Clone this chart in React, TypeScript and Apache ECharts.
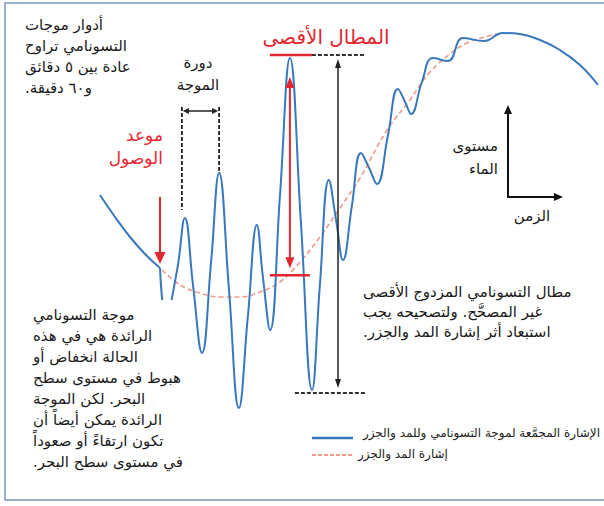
import React, { useEffect, useRef } from "react";
import * as echarts from "echarts";

// Combined signal (tsunami + tide): time (arbitrary units) and water level
const signalTime = [0, 5, 10, 15, 20, 22, 25.7, 28.3, 31, 34, 37, 39.7, 43, 46.3, 49.3, 52.3, 54.3, 56.7, 60, 63.3, 67, 70.7, 73.3, 76.3, 78.7, 81, 84, 87, 89.7, 92.3, 96, 99.3, 101.7, 103.7, 107.3, 111, 116, 121, 128, 134.3, 140, 146.7, 153.3, 160, 166];
const signalLevel = [107.5, 96.5, 86.5, 78, 71, 47, 70, 96, 62.5, 28.5, 73.5, 118.5, 60, 1, 47, 92.5, 66.5, 40, 107.5, 176, 93, 10, 62.5, 115, 95, 75, 102.5, 128.5, 121, 113, 137.5, 160.5, 154, 148, 164, 176, 174.5, 186, 184.5, 188.5, 188, 185, 180, 172.5, 162.5];
// Tide signal
const tideTime = [20.7, 26.7, 33.3, 40, 46.7, 53.3, 60, 66.7, 73.3, 80, 86.7, 95.7, 103.3, 110, 116.7, 122.3, 128.3, 134.3];
const tideLevel = [70, 62.5, 58.5, 56.5, 56.5, 59, 64, 74, 86.5, 101, 116, 140, 155, 169, 178, 183.5, 186.5, 188.5];

const arrivalIndex = 4;
const periodPeaks = [7, 11];
const maxPeakIndex = 19;
const minTroughIndex = 21;

const blueName = "الإشارة المجمَّعة لموجة التسونامي وللمد والجزر";
const tideName = "إشارة المد والجزر";

const FONT = "'DejaVu Sans', sans-serif";
const BLUE = "#3a78bd";
const RED = "#e3262f";
const TIDE = "#f09a88";
const RLM = "\u200F";

function pairs(t: number[], v: number[], from = 0, to = t.length) {
  const out: number[][] = [];
  for (let i = from; i < to; i++) out.push([t[i], v[i]]);
  return out;
}

function tideAt(t: number) {
  for (let i = 0; i < tideTime.length - 1; i++) {
    if (t >= tideTime[i] && t <= tideTime[i + 1]) {
      const f = (t - tideTime[i]) / (tideTime[i + 1] - tideTime[i]);
      return tideLevel[i] + f * (tideLevel[i + 1] - tideLevel[i]);
    }
  }
  return tideLevel[0];
}

function rtl(s: string) {
  return s.split("\n").map((l) => RLM + l + RLM).join("\n");
}

function vArrow(x: number, y1: number, y2: number, color: string, lw: number, hw: number, hl: number, both: boolean, z = 20) {
  const els: any[] = [];
  els.push({ type: "line", z, shape: { x1: x, y1: both ? y1 + hl - 1 : y1, x2: x, y2: y2 - hl + 1 }, style: { stroke: color, lineWidth: lw } });
  els.push({ type: "polygon", z, shape: { points: [[x, y2], [x - hw / 2, y2 - hl], [x + hw / 2, y2 - hl]] }, style: { fill: color } });
  if (both) els.push({ type: "polygon", z, shape: { points: [[x, y1], [x - hw / 2, y1 + hl], [x + hw / 2, y1 + hl]] }, style: { fill: color } });
  return els;
}

export default function App() {
  const ref = useRef<HTMLDivElement>(null);
  useEffect(() => {
    if (!ref.current) return;
    const chart = echarts.init(ref.current, undefined, { renderer: "svg" });
    chart.setOption({
      animation: false,
      grid: { left: 100, right: 6, top: 10, bottom: 96 },
      xAxis: { type: "value", min: 0, max: 166, show: false },
      yAxis: { type: "value", min: 0, max: 200, show: false },
      series: [
        {
          name: blueName, type: "line", smooth: 0.45, symbol: "none", clip: false, z: 3,
          lineStyle: { color: BLUE, width: 2 }, itemStyle: { color: BLUE },
          data: pairs(signalTime, signalLevel, 0, arrivalIndex + 1),
        },
        {
          name: tideName, type: "line", smooth: 0.4, symbol: "none", clip: false, z: 2,
          lineStyle: { color: TIDE, width: 1.6, type: [5, 3] }, itemStyle: { color: TIDE },
          data: pairs(tideTime, tideLevel),
        },
        {
          name: blueName, type: "line", smooth: 0.45, symbol: "none", clip: false, z: 3,
          lineStyle: { color: BLUE, width: 2 }, itemStyle: { color: BLUE },
          data: pairs(signalTime, signalLevel, arrivalIndex, signalTime.length),
        },
      ],
    });

    const P = (t: number, v: number) => chart.convertToPixel({ gridIndex: 0 }, [t, v]) as number[];
    const arr = P(signalTime[arrivalIndex], signalLevel[arrivalIndex]);
    const pk1 = P(signalTime[periodPeaks[0]], signalLevel[periodPeaks[0]]);
    const pk2 = P(signalTime[periodPeaks[1]], signalLevel[periodPeaks[1]]);
    const mx = P(signalTime[maxPeakIndex], signalLevel[maxPeakIndex]);
    const tideMx = P(signalTime[maxPeakIndex], tideAt(signalTime[maxPeakIndex]));
    const mn = P(signalTime[minTroughIndex], signalLevel[minTroughIndex]);

    const topY = mx[1] - 3;
    const bigX = 338;
    const g: any[] = [];
    // frame
    g.push({ type: "polyline", z: 1, shape: { points: [[604, 3], [5, 3], [5, 500], [604, 500]] }, style: { stroke: "#7b94b9", lineWidth: 1.5, fill: "none" } });
    // white box behind lower-left text
    g.push({ type: "rect", z: 10, shape: { x: 28, y: 300, width: 162, height: 172 }, style: { fill: "#fff" } });

    // period bracket
    const lx = pk1[0] - 3, rx = pk2[0];
    g.push({ type: "line", z: 20, shape: { x1: lx, y1: 107, x2: lx, y2: pk1[1] - 8 }, style: { stroke: "#222", lineWidth: 1.8, lineDash: [4, 2] } });
    g.push({ type: "line", z: 20, shape: { x1: rx, y1: 107, x2: rx, y2: pk2[1] - 1 }, style: { stroke: "#222", lineWidth: 1.8, lineDash: [4, 2] } });
    g.push({ type: "line", z: 20, shape: { x1: lx + 5, y1: 111, x2: rx - 5, y2: 111 }, style: { stroke: "#222", lineWidth: 1.5 } });
    g.push({ type: "polygon", z: 20, shape: { points: [[lx + 1, 111], [lx + 7, 108], [lx + 7, 114]] }, style: { fill: "#222" } });
    g.push({ type: "polygon", z: 20, shape: { points: [[rx - 1, 111], [rx - 7, 108], [rx - 7, 114]] }, style: { fill: "#222" } });

    // arrival arrow
    g.push(...vArrow(arr[0], 197, arr[1] - 4, RED, 2, 11, 12, false));

    // max amplitude bars
    g.push({ type: "line", z: 20, shape: { x1: mx[0] - 20, y1: topY, x2: mx[0] + 22, y2: topY }, style: { stroke: RED, lineWidth: 2.5 } });
    g.push({ type: "line", z: 20, shape: { x1: mx[0] + 22, y1: topY, x2: 365, y2: topY }, style: { stroke: "#333", lineWidth: 1.8, lineDash: [4, 2] } });
    g.push({ type: "line", z: 20, shape: { x1: mx[0] - 20, y1: tideMx[1] + 3, x2: mx[0] + 20, y2: tideMx[1] + 3 }, style: { stroke: RED, lineWidth: 2.5 } });
    g.push(...vArrow(mx[0], topY + 22, tideMx[1] - 4, RED, 2, 9, 11, true));
    // double (uncorrected) amplitude
    g.push({ type: "line", z: 20, shape: { x1: mx[0] + 5, y1: mn[1] + 3, x2: 365, y2: mn[1] + 3 }, style: { stroke: "#333", lineWidth: 1.8, lineDash: [4, 2] } });
    g.push(...vArrow(bigX, topY + 4, mn[1] - 2, "#222", 1.5, 6, 9, true));

    // axes icon
    g.push({ type: "line", z: 20, shape: { x1: 508, y1: 197, x2: 508, y2: 112 }, style: { stroke: "#111", lineWidth: 2 } });
    g.push({ type: "polygon", z: 20, shape: { points: [[508, 105], [504, 114], [512, 114]] }, style: { fill: "#111" } });
    g.push({ type: "line", z: 20, shape: { x1: 507, y1: 197, x2: 556, y2: 197 }, style: { stroke: "#111", lineWidth: 2 } });
    g.push({ type: "polygon", z: 20, shape: { points: [[563, 197], [554, 193], [554, 201]] }, style: { fill: "#111" } });

    // legend (drawn by hand: RTL text to the right of the line sample)
    g.push({ type: "line", z: 20, shape: { x1: 312, y1: 438, x2: 353, y2: 438 }, style: { stroke: BLUE, lineWidth: 2.5 } });
    g.push({ type: "line", z: 20, shape: { x1: 312, y1: 455, x2: 353, y2: 455 }, style: { stroke: TIDE, lineWidth: 1.8, lineDash: [4, 2] } });

    const txt = (text: string, x: number, y: number, align: string, size: number, lh: number, color = "#1a1a1a") => ({
      type: "text", z: 30, x, y,
      style: { text: rtl(text), align, verticalAlign: "top", fill: color, fontFamily: FONT, fontSize: size, lineHeight: lh },
    });
    g.push(txt(blueName, 600, 425, "right", 12, 16, "#222"));
    g.push(txt(tideName, 358, 446, "left", 12, 16, "#222"));
    g.push(txt("أدوار موجات\nالتسونامي تراوح\nعادة بين ٥ دقائق\nو٦٠ دقيقة.", 25, 14, "left", 15, 21));
    g.push(txt("دورة\nالموجة", 198, 52, "center", 15, 22));
    g.push(txt("موعد\nالوصول", 163, 123, "right", 17, 23, RED));
    g.push(txt("المطال الأقصى", 326, 24, "center", 20, 26, RED));
    g.push(txt("مستوى\nالماء", 498, 134, "right", 15, 23));
    g.push(txt("الزمن", 532, 205, "center", 15, 22));
    g.push(txt("مطال التسونامي المزدوج الأقصى\nغير المصحَّح. ولتصحيحه يجب\nاستبعاد أثر إشارة المد والجزر.", 363, 282, "left", 15, 20));
    g.push(txt("موجة التسونامي\nالرائدة هي في هذه\nالحالة انخفاض أو\nهبوط في مستوى سطح\nالبحر. لكن الموجة\nالرائدة يمكن أيضاً أن\nتكون ارتقاءً أو صعوداً\nفي مستوى سطح البحر.", 33, 304, "left", 15, 21));

    chart.setOption({ graphic: { elements: g } });
    return () => chart.dispose();
  }, []);
  return <div ref={ref} style={{ width: 604, height: 506, position: "absolute", left: 0, top: 0, background: "#fff" }} />;
}
